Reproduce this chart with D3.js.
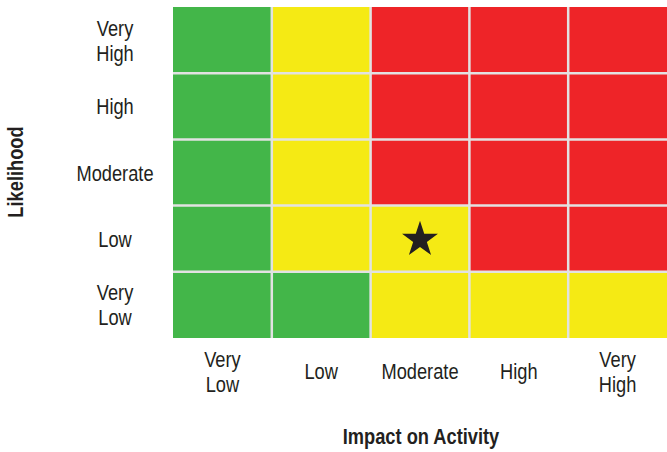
<!DOCTYPE html>
<html>
<head>
<meta charset="utf-8">
<script src="https://cdn.jsdelivr.net/npm/d3@7"></script>
<style>
  body { margin: 0; background: #fff; }
  text { font-family: "Liberation Sans", Arial, sans-serif; fill: #231f20; font-size: 22px; }
</style>
</head>
<body>
<div id="chart"></div>
<script>
// data
var impactLevels = ["Very Low", "Low", "Moderate", "High", "Very High"];
var likelihoodLevels = ["Very High", "High", "Moderate", "Low", "Very Low"];
// risk rating per row (likelihood, top to bottom) and column (impact)
var riskGrid = [
  ["low", "medium", "high", "high", "high"],
  ["low", "medium", "high", "high", "high"],
  ["low", "medium", "high", "high", "high"],
  ["low", "medium", "medium", "high", "high"],
  ["low", "low", "medium", "medium", "medium"]
];
var marker = {impact: "Moderate", likelihood: "Low"};

var width = 667, height = 452;
var margin = {top: 7, right: 0, bottom: 114, left: 173};
var narrow = 0.83; // squeeze text to mimic a condensed face

var svg = d3.select("#chart").append("svg")
    .attr("width", width)
    .attr("height", height);

// scales
var x = d3.scaleBand().domain(impactLevels).range([margin.left, width - margin.right]);
var y = d3.scaleBand().domain(likelihoodLevels).range([margin.top, height - margin.bottom]);
var colour = d3.scaleOrdinal()
    .domain(["low", "medium", "high"])
    .range(["#43b649", "#f5ea14", "#ee2428"]);

// flatten grid into cells
var cells = [];
riskGrid.forEach(function(row, i) {
  row.forEach(function(r, j) {
    cells.push({likelihood: likelihoodLevels[i], impact: impactLevels[j], risk: r});
  });
});

svg.selectAll("rect.cell")
    .data(cells)
  .enter().append("rect")
    .attr("class", "cell")
    .attr("x", function(d) { return x(d.impact); })
    .attr("y", function(d) { return y(d.likelihood); })
    .attr("width", x.bandwidth())
    .attr("height", y.bandwidth())
    .style("fill", function(d) { return colour(d.risk); });

// grey separators between cells
svg.selectAll("line.vsep")
    .data(impactLevels.slice(1))
  .enter().append("line")
    .attr("x1", function(d) { return x(d); })
    .attr("x2", function(d) { return x(d); })
    .attr("y1", y.range()[0])
    .attr("y2", y.range()[1])
    .style("stroke", "#e2e2e2")
    .style("stroke-width", 2.5);

svg.selectAll("line.hsep")
    .data(likelihoodLevels.slice(1))
  .enter().append("line")
    .attr("y1", function(d) { return y(d); })
    .attr("y2", function(d) { return y(d); })
    .attr("x1", x.range()[0])
    .attr("x2", x.range()[1])
    .style("stroke", "#e2e2e2")
    .style("stroke-width", 2.5);

// star marker
svg.append("path")
    .attr("d", d3.symbol().type(d3.symbolStar).size(400))
    .attr("transform", "translate(" + (x(marker.impact) + x.bandwidth() / 2) + "," +
          (y(marker.likelihood) + y.bandwidth() / 2 + 1) + ")")
    .style("fill", "#231f20");

// label: group at (cx, cy), squeezed horizontally, words on separate lines
function addLabel(g, lineHeight) {
  g.each(function(d) {
    var words = d.split(" ");
    var t = d3.select(this).append("text").attr("text-anchor", "middle");
    var off = -(words.length - 1) / 2 * lineHeight;
    words.forEach(function(w, i) {
      t.append("tspan")
        .attr("x", 0)
        .attr("dy", i === 0 ? off : lineHeight)
        .text(w);
    });
  });
}

// x axis labels
svg.selectAll("g.xlab")
    .data(impactLevels)
  .enter().append("g")
    .attr("class", "xlab")
    .attr("transform", function(d) {
      return "translate(" + (x(d) + x.bandwidth() / 2) + ",379) scale(" + narrow + ",1)";
    })
    .call(addLabel, 25);

// y axis labels
svg.selectAll("g.ylab")
    .data(likelihoodLevels)
  .enter().append("g")
    .attr("class", "ylab")
    .attr("transform", function(d) {
      return "translate(115," + (y(d) + y.bandwidth() / 2 + 8) + ") scale(" + narrow + ",1)";
    })
    .call(addLabel, 25);

// axis titles
svg.append("g")
    .attr("transform", "translate(421,444) scale(" + narrow + ",1)")
  .append("text")
    .attr("text-anchor", "middle")
    .style("font-weight", "bold")
    .text("Impact on Activity");

svg.append("g")
    .attr("transform", "translate(23,172) rotate(-90) scale(" + narrow + ",1)")
  .append("text")
    .attr("text-anchor", "middle")
    .style("font-weight", "bold")
    .text("Likelihood");
</script>
</body>
</html>
